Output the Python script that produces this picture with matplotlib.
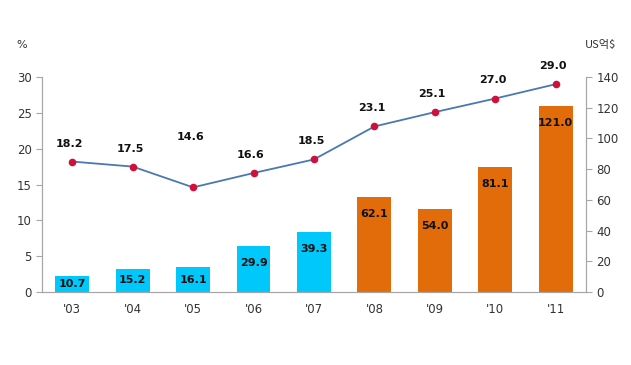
import numpy as np
import matplotlib.pyplot as plt

plt.rcParams['font.family'] = ['DejaVu Sans', 'Noto Sans CJK KR']

# data
years = ["'03", "'04", "'05", "'06", "'07", "'08", "'09", "'10", "'11"]
amount = [10.7, 15.2, 16.1, 29.9, 39.3, 62.1, 54.0, 81.1, 121.0]   # US억$ (right axis)
share = [18.2, 17.5, 14.6, 16.6, 18.5, 23.1, 25.1, 27.0, 29.0]     # % (left axis)
n_cyan = 5  # first five years drawn in cyan

cyan = '#00C8FA'
orange = '#E36C0A'
line_c = '#4A78B0'
dot_c = '#D0103A'
axis_c = '#A6A6A6'

x = np.arange(len(years))

fig = plt.figure(figsize=(6.31, 3.65), dpi=100)
ax = fig.add_axes([0.0666, 0.2, 0.862, 0.589])
ax2 = ax.twinx()

# bars on right axis
colors = [cyan if i < n_cyan else orange for i in range(len(years))]
ax2.bar(x, amount, width=0.56, color=colors, zorder=1)
for xi, v in zip(x, amount):
    yl = max(v - 11, v / 2)
    ax2.text(xi, yl, f'{v:.1f}', ha='center', va='center',
             fontsize=8, fontweight='bold', color='#111111')

# line on left axis, drawn above bars
ax.set_zorder(ax2.get_zorder() + 1)
ax.patch.set_visible(False)
ax.plot(x, share, color=line_c, lw=1.3, zorder=3)
ax.scatter(x, share, s=20, color=dot_c, zorder=4)
lab_off = [13, 13, 36, 13, 13, 13, 13, 13, 13]
for xi, v, off in zip(x, share, lab_off):
    ax.annotate(f'{v:.1f}', (xi, v), xytext=(-2, off), textcoords='offset points',
                ha='center', va='center', fontsize=8, fontweight='bold', color='#111111')

ax.set_xlim(-0.5, len(years) - 0.5)
ax.set_ylim(0, 30)
ax.set_yticks(range(0, 31, 5))
ax2.set_ylim(0, 140)
ax2.set_yticks(range(0, 141, 20))
ax.set_xticks(x)
ax.set_xticklabels(years)

for a in (ax, ax2):
    for s in a.spines.values():
        s.set_color(axis_c)
    a.spines['top'].set_visible(False)
    a.tick_params(axis='y', colors=axis_c, labelcolor='#333333', labelsize=8.5, length=4)
ax.tick_params(axis='x', length=0, pad=8, labelsize=8.5, labelcolor='#333333')

fig.text(22 / 631, 1 - 45 / 365, '%', ha='center', va='center', fontsize=8, color='#333333')
fig.text(600 / 631, 1 - 45 / 365, 'US억$', ha='center', va='center', fontsize=8, color='#333333',
         family=['Noto Sans CJK KR', 'DejaVu Sans'])

fig.savefig('out.png', dpi=100)
